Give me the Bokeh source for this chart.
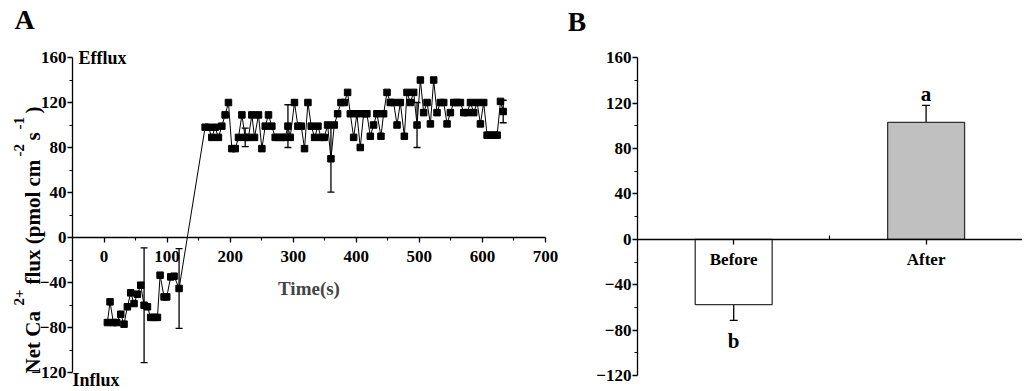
import math
from bokeh.plotting import figure
from bokeh.models import Range1d, FixedTicker, Label, Whisker, ColumnDataSource, TeeHead
from bokeh.layouts import row
from bokeh.embed import file_html
from bokeh.resources import INLINE

# ---------------- data ----------------
before_t = [5.3, 9.5, 14.8, 20.1, 26.5, 31.7, 37.0, 42.3, 47.6, 52.9, 58.2, 63.5, 68.8, 74.0,
            79.4, 84.7, 88.9, 95.2, 99.4, 105.8, 111.1, 119.0]
before_v = [-75.6, -57.2, -75.6, -75.6, -68.2, -77, -61.6, -49.2, -58.7, -50.4, -42.4, -60.2,
            -61.6, -71, -71, -71, -33.5, -52.8, -52.8, -35, -34.4, -45.3]

after_t = [160.3, 165.6, 170.9, 176.2, 181.4, 186.8, 192.0, 197.3, 202.7, 208.0, 213.2, 218.6,
           223.8, 229.0, 234.4, 238.6, 244.9, 250.3, 255.6, 260.8, 266.1, 271.4, 276.7, 282.0,
           287.3, 291.6, 295.2, 302.0, 307.4, 312.7, 317.9, 323.3, 328.6, 333.9, 339.2, 343.9,
           349.2, 354.5, 359.8, 365.1, 370.4, 375.7, 381.0, 386.2, 390.5, 395.8, 401.0, 406.3,
           411.6, 416.8, 422.2, 427.4, 432.7, 439.1, 443.3, 448.7, 453.9, 459.2, 464.6, 469.8,
           476.2, 480.4, 485.7, 491.0, 496.3, 501.6, 506.8, 512.2, 517.5, 522.7, 528.0, 533.3,
           538.6, 543.9, 549.2, 554.5, 559.8, 565.1, 570.4, 575.7, 581.0, 586.2, 591.5, 596.8,
           602.0, 607.4, 612.7, 618.0, 623.3, 628.6, 632.9]
after_v = [98, 98, 89, 98, 89, 99, 109, 120, 79, 79, 89, 109, 89, 89, 109, 89, 109, 79, 99, 109,
           99, 89, 89, 89, 89, 99, 89, 120, 99, 99, 79, 120, 99, 89, 99, 89, 89, 100, 70, 100,
           110, 120, 120, 129, 110, 89, 110, 80, 110, 110, 90, 100, 110, 90, 110, 129, 120, 120,
           100, 120, 90, 129, 120, 129, 100, 140, 111, 120, 101, 140, 111, 120, 120, 101, 111,
           120, 120, 120, 111, 111, 120, 111, 120, 101, 120, 91, 91, 91, 91, 121, 112]

err_t = [63.5, 119.0, 223.8, 291.6, 359.8, 496.3, 632.9]
err_sd = [51, 35.5, 8.3, 19, 29.6, 20, 10]

groups = ["Before", "After"]
group_mean = [-57.5, 103]
group_se = [14, 15]
group_letter = ["b", "a"]
group_fill = ["#ffffff", "#c0c0c0"]

y_ticks = [-120, -80, -40, 0, 40, 80, 120, 160]
y_minor = [-100, -60, -20, 20, 60, 100, 140]
x_ticks = [0, 100, 200, 300, 400, 500, 600, 700]
x_minor = [50, 150, 250, 350, 450, 550, 650]

# ---------------- style ----------------
FONT = "Liberation Serif"
H = 390
W1 = 568
W2 = 454

time = before_t + after_t
flux = before_v + after_v
lookup = dict(zip(time, flux))
err_mean = [lookup[t] for t in err_t]


def style_axes(p):
    for ax in (p.xaxis[0], p.yaxis[0]):
        ax.axis_line_color = "black"
        ax.axis_line_width = 1.3
        ax.major_tick_line_color = "black"
        ax.minor_tick_line_color = "black"
        ax.major_tick_line_width = 1.3
        ax.minor_tick_line_width = 1.1
        ax.major_tick_in = 0
        ax.minor_tick_in = 0
        ax.major_tick_out = 5
        ax.minor_tick_out = 3
        ax.major_label_text_font = FONT
        ax.major_label_text_font_style = "bold"
        ax.major_label_text_font_size = "17px"
        ax.major_label_text_color = "black"
    p.yaxis[0].major_label_standoff = 1
    p.xaxis[0].major_label_standoff = 8
    p.xgrid.visible = False
    p.ygrid.visible = False
    p.outline_line_color = None


def label(p, x, y, text, size, align="left", baseline="middle", angle=0.0):
    p.add_layout(Label(x=x, y=y, text=text, angle=angle, text_font=FONT, text_font_style="bold",
                       text_font_size=size, text_align=align, text_baseline=baseline,
                       text_color="black"))


# ---------------- left panel ----------------
# pixel mapping: x=-50 at px 72, x=700 at px 545; y=160 at py 57, y=-120 at py 372
def lx(px):
    return -50 + (px - 72) * 750 / 473


def ly(py):
    return 160 - (py - 57) * 280 / 315


p1 = figure(width=W1, height=H, output_backend="svg", toolbar_location=None,
            x_range=Range1d(lx(0), lx(W1)), y_range=Range1d(ly(H), ly(0)),
            min_border_left=0, min_border_right=0, min_border_top=0, min_border_bottom=0)
style_axes(p1)
p1.xaxis.fixed_location = 0
p1.yaxis.fixed_location = -50
p1.xaxis.bounds = (-50, 700)
p1.yaxis.bounds = (-120, 160)
p1.xaxis.ticker = FixedTicker(ticks=x_ticks, minor_ticks=x_minor)
p1.yaxis.ticker = FixedTicker(ticks=y_ticks, minor_ticks=y_minor)
p1.xaxis.axis_label = "Time(s)"
p1.xaxis.axis_label_text_font = FONT
p1.xaxis.axis_label_text_font_style = "bold"
p1.xaxis.axis_label_text_font_size = "19px"
p1.xaxis.axis_label_standoff = 13

src = ColumnDataSource(dict(t=time, v=flux))
p1.line("t", "v", source=src, line_color="black", line_width=1)
p1.scatter("t", "v", source=src, marker="square", size=6.5, fill_color="black", line_color="black")

esrc = ColumnDataSource(dict(t=err_t, up=[m + e for m, e in zip(err_mean, err_sd)],
                             lo=[m - e for m, e in zip(err_mean, err_sd)]))
p1.add_layout(Whisker(base="t", upper="up", lower="lo", source=esrc, line_color="black", line_width=1.3,
                      upper_head=TeeHead(size=7, line_color="black", line_width=1.3),
                      lower_head=TeeHead(size=7, line_color="black", line_width=1.3)))

label(p1, lx(78), ly(57), "Efflux", "18px")
label(p1, lx(72), ly(389), "Influx", "18px", baseline="bottom")
label(p1, lx(14), ly(19), "A", "28px")

# rotated y-axis title with superscripts (start position along the axis, baseline x, size)
title_parts = [("Net Ca", 373, 32, "21px"), ("2+", 305, 18, "15px"),
               ("flux (pmol cm", 284, 32, "21px"), ("-2", 156, 18, "15px"),
               ("s", 140, 32, "21px"), ("-1", 129, 18, "15px"), (")", 113, 32, "21px")]
for txt, py, px, fs in title_parts:
    label(p1, lx(px), ly(py), txt, fs, baseline="alphabetic", angle=math.pi / 2)

# ---------------- right panel ----------------
X0 = W1  # page x of right canvas


def rx(px):
    return 0.5 + (px - 637) / 192.4


def ry(py):
    return 160 - (py - 57.3) * 280 / 317.7


p2 = figure(width=W2, height=H, output_backend="svg", toolbar_location=None,
            x_range=Range1d(rx(X0), rx(X0 + W2)), y_range=Range1d(ry(H), ry(0)),
            min_border_left=0, min_border_right=0, min_border_top=0, min_border_bottom=0)
style_axes(p2)
p2.xaxis.fixed_location = 0
p2.yaxis.fixed_location = 0.5
p2.xaxis.bounds = (0.5, 2.5)
p2.yaxis.bounds = (-120, 160)
p2.xaxis.ticker = FixedTicker(ticks=[1, 2], minor_ticks=[1.5])
p2.xaxis.major_label_overrides = {1: groups[0], 2: groups[1]}
p2.xaxis.minor_tick_in = 4
p2.xaxis.minor_tick_out = 0
p2.xaxis.major_label_standoff = 6
p2.yaxis.ticker = FixedTicker(ticks=y_ticks, minor_ticks=y_minor)

pos = [1, 2]
bsrc = ColumnDataSource(dict(x=pos, top=group_mean, fill=group_fill,
                             up=[m + e for m, e in zip(group_mean, group_se)],
                             lo=[m - e for m, e in zip(group_mean, group_se)]))
p2.vbar(x="x", top="top", bottom=0, width=0.4, fill_color="fill", line_color="#333333",
        line_width=1.3, source=bsrc)
p2.add_layout(Whisker(base="x", upper="up", lower="lo", source=bsrc, line_color="black", line_width=1.3,
                      upper_head=TeeHead(size=8, line_color="black", line_width=1.3),
                      lower_head=TeeHead(size=8, line_color="black", line_width=1.3)))
letter_y = [-90, 128]
for x, y, t in zip(pos, letter_y, group_letter):
    label(p2, x, y, t, "21px", align="center")

label(p2, rx(567), ry(21), "B", "28px")

layout = row(p1, p2)
open("out.html", "w").write(file_html(layout, INLINE))
